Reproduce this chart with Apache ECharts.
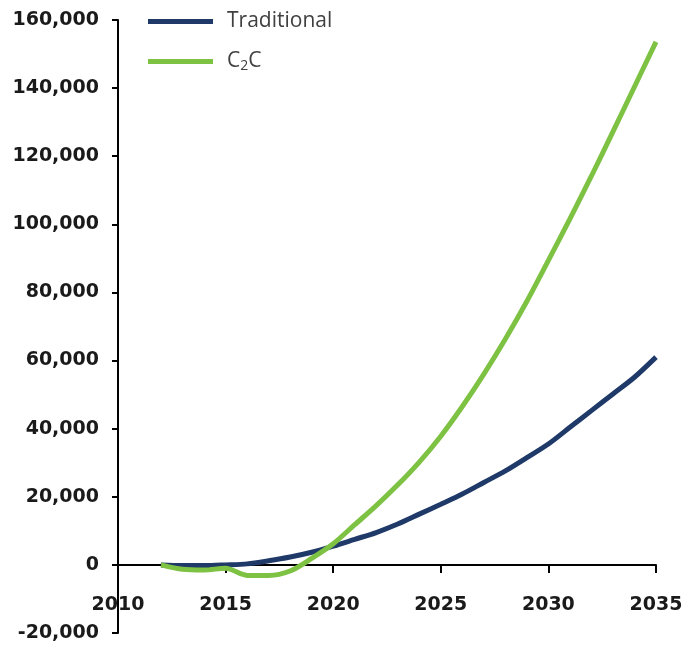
<!DOCTYPE html>
<html>
<head>
<meta charset="utf-8">
<script src="https://cdn.jsdelivr.net/npm/echarts@6/dist/echarts.min.js"></script>
<style>html,body{margin:0;padding:0;background:#fff;}#c{width:698px;height:650px;}</style>
</head>
<body>
<div id="c"></div>
<script>
var years = [2012,2013,2014,2015,2016,2017,2018,2019,2020,2021,2022,2023,2024,2025,2026,2027,2028,2029,2030,2031,2032,2033,2034,2035];
var traditional = [0,-200,-200,0,300,1200,2300,3700,5500,7500,9500,12000,14900,17800,20800,24200,27600,31500,35500,40400,45300,50200,55100,61000];
var c2c = [0,-1300,-1500,-1000,-3100,-3100,-1800,1900,6200,11800,17400,23500,30200,37800,46500,56000,66300,77400,89400,101600,114200,127200,140400,153600];
var seriesNames = ['Traditional','C2C'];
var xTicks = {min:2010, max:2035, interval:5};
var yTicks = {min:-20000, max:160000, interval:20000};

function pairs(xs, ys){ return xs.map(function(x,i){return [x, ys[i]];}); }

var chart = echarts.init(document.getElementById('c'), null, {renderer:'canvas'});
var labelFont = {fontFamily:'DejaVu Sans', fontWeight:'bold', fontSize:19, color:'#1a1a1a'};
chart.setOption({
  animation:false,
  backgroundColor:'#fff',
  grid:{left:118, right:42, top:20, bottom:17, containLabel:false, outerBoundsMode:'none'},
  legend:{
    orient:'vertical', left:143, top:6, icon:'rect', itemWidth:65, itemHeight:5, itemGap:19,
    data:seriesNames,
    formatter:function(n){ return n==='C2C' ? '{n|C}{s|2}{n|C}' : '{n|'+n+'}'; },
    textStyle:{
      padding:[0,0,0,9],
      rich:{
        n:{fontFamily:'Open Sans', fontSize:21, color:'#404040'},
        s:{fontFamily:'Open Sans', fontSize:14, color:'#404040', padding:[9,0,0,0]}
      }
    }
  },
  xAxis:{
    type:'value', min:xTicks.min, max:xTicks.max, interval:xTicks.interval,
    axisLine:{onZero:true, onZeroAxisIndex:0, lineStyle:{color:'#000', width:2}},
    axisTick:{show:true, length:8, lineStyle:{color:'#000', width:2}},
    splitLine:{show:false},
    axisLabel:Object.assign({margin:-37, formatter:function(v){return String(v);}}, labelFont)
  },
  yAxis:{
    type:'value', min:yTicks.min, max:yTicks.max, interval:yTicks.interval,
    axisLine:{show:true, onZero:false, lineStyle:{color:'#000', width:2}},
    axisTick:{show:true, length:6, lineStyle:{color:'#000', width:2}},
    splitLine:{show:false},
    axisLabel:Object.assign({margin:19, formatter:function(v){return v.toLocaleString('en-US');}}, labelFont)
  },
  series:[
    {name:'Traditional', type:'line', data:pairs(years, traditional), smooth:0.3, showSymbol:false, symbol:'none',
     lineStyle:{color:'#1f3a68', width:5}, itemStyle:{color:'#1f3a68'}},
    {name:'C2C', type:'line', data:pairs(years, c2c), smooth:0.3, showSymbol:false, symbol:'none',
     lineStyle:{color:'#7dc242', width:5}, itemStyle:{color:'#7dc242'}}
  ]
});
</script>
</body>
</html>
